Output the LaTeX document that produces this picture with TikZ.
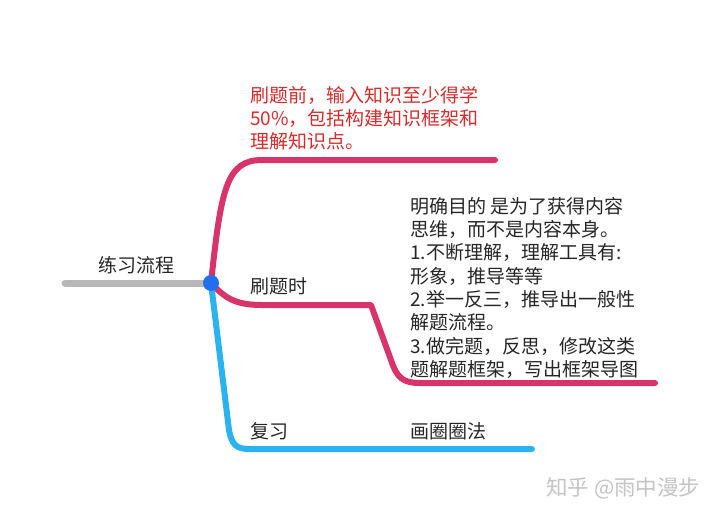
\documentclass[tikz,border=0pt]{standalone}
\usepackage{fontspec}
\setmainfont{Noto Sans CJK SC}
\begin{document}
\begin{tikzpicture}[x=1pt,y=-1pt,
  lbl/.style={inner sep=0pt,font=\fontsize{19}{23.3}\selectfont,text=black!85,align=left},
  redlbl/.style={lbl,text=redtxt},
  pinkline/.style={draw=pinkc,line width=6pt,line cap=round,line join=round},
  blueline/.style={draw=bluec,line width=6pt,line cap=round,line join=round},
  grayline/.style={draw=grayc,line width=7pt,line cap=round}]
\definecolor{pinkc}{HTML}{D8336B}
\definecolor{bluec}{HTML}{2BB3F0}
\definecolor{grayc}{HTML}{B8B8B8}
\definecolor{dotc}{HTML}{1F6FEE}
\definecolor{redtxt}{HTML}{D62B2B}
\definecolor{wm}{HTML}{C4C4C4}
\useasboundingbox (0,0) rectangle (720,514);
% anchor coordinates
\coordinate (root) at (65,283);
\coordinate (c) at (211,283);
\coordinate (topend) at (495,160);
\coordinate (midend) at (655,383);
\coordinate (botend) at (532,449);
% connectors
\draw[grayline] (root) -- (c);
\draw[pinkline] (c) .. controls (221,190) and (226,160) .. (262,160) -- (topend);
\draw[pinkline] (c) .. controls (225,298) and (235,305) .. (262,305) -- (371,305)
  -- (391,360) .. controls (397,378) and (403,383) .. (420,383) -- (midend);
\draw[blueline] (c) -- (229,430) .. controls (232,445) and (236,449) .. (250,449) -- (botend);
\fill[dotc] (c) circle (8);
% texts
\node[lbl,anchor=base west] (lx) at (98,272) {练习流程};
\node[lbl,anchor=base west] (sts) at (250,293) {刷题时};
\node[lbl,anchor=base west] (fx) at (250,438) {复习};
\node[lbl,anchor=base west] (hq) at (410,438) {画圈圈法};
\node[redlbl,anchor=north west] (pre) at (250,86) {刷题前，输入知识至少得学\\50\%，包括构建知识框架和\\理解知识点。};
\node[lbl,anchor=north west] (mq) at (410,197) {明确目的 是为了获得内容\\思维，而不是内容本身。\\1.不断理解，理解工具有:\\形象，推导等等\\2.举一反三，推导出一般性\\解题流程。\\3.做完题，反思，修改这类\\题解题框架，写出框架导图};
\node[inner sep=0pt,anchor=base west,font=\fontsize{21.5}{24}\selectfont,text=wm] (wmk) at (546,495) {知乎 @雨中漫步};
\end{tikzpicture}
\end{document}
